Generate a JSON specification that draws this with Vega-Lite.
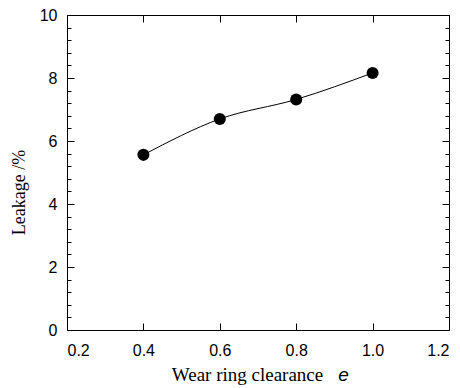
{
  "$schema": "https://vega.github.io/schema/vega-lite/v6.json",
  "width": 382,
  "height": 315,
  "autosize": "none",
  "padding": {"left": 67, "top": 15, "right": 11, "bottom": 58},
  "background": "white",
  "config": {
    "view": {"stroke": "black", "strokeWidth": 1},
    "axis": {
      "domain": false,
      "tickColor": "black",
      "tickWidth": 1,
      "labelColor": "black",
      "titleColor": "black",
      "labelFont": "Liberation Sans",
      "labelFontSize": 16,
      "titleFont": "Liberation Serif",
      "titleFontSize": 18,
      "titleFontWeight": "normal",
      "grid": false
    }
  },
  "data": {
    "values": [
      {"e": 0.4, "leakage": 5.56},
      {"e": 0.6, "leakage": 6.70},
      {"e": 0.8, "leakage": 7.32},
      {"e": 1.0, "leakage": 8.16}
    ]
  },
  "layer": [
    {
      "encoding": {
        "x": {
          "field": "e",
          "type": "quantitative",
          "scale": {"domain": [0.2, 1.2], "nice": false, "zero": false},
          "axis": {
            "orient": "bottom",
            "title": "Wear ring clearance",
            "titleFontSize": 19,
            "titleX": 180,
            "titleY": 57,
            "titleBaseline": "alphabetic",
            "titleAlign": "center",
            "values": [0.2, 0.4, 0.6, 0.8, 1.0, 1.2],
            "format": ".1f",
            "offset": -7,
            "tickSize": 7,
            "labelPadding": 12
          }
        },
        "y": {
          "field": "leakage",
          "type": "quantitative",
          "scale": {"domain": [0, 10], "nice": false},
          "axis": {
            "orient": "left",
            "title": "Leakage /%",
            "values": [0, 2, 4, 6, 8, 10],
            "offset": -7,
            "tickSize": 7,
            "labelPadding": 10,
            "titlePadding": 11,
            "titleY": 177
          }
        }
      },
      "layer": [
        {
          "mark": {"type": "line", "color": "black", "strokeWidth": 1, "interpolate": "monotone"}
        },
        {
          "mark": {"type": "point", "filled": true, "color": "black", "opacity": 1, "size": 145}
        }
      ]
    },
    {
      "mark": {"type": "point", "opacity": 0},
      "encoding": {
        "x": {
          "field": "e",
          "type": "quantitative",
          "scale": {"domain": [0.2, 1.2], "nice": false, "zero": false},
          "axis": {
            "orient": "top",
            "title": null,
            "labels": false,
            "values": [0.2, 0.4, 0.6, 0.8, 1.0, 1.2],
            "offset": -7,
            "tickSize": 7
          }
        },
        "y": {
          "field": "leakage",
          "type": "quantitative",
          "scale": {"domain": [0, 10], "nice": false},
          "axis": {
            "orient": "right",
            "title": null,
            "labels": false,
            "values": [0, 2, 4, 6, 8, 10],
            "offset": -7,
            "tickSize": 7
          }
        }
      }
    },
    {
      "mark": {"type": "point", "opacity": 0},
      "encoding": {
        "x": {
          "field": "e",
          "type": "quantitative",
          "scale": {"domain": [0.2, 1.2], "nice": false, "zero": false},
          "axis": {
            "orient": "bottom",
            "title": "e",
            "titleFont": "Liberation Sans",
            "titleFontStyle": "italic",
            "titleFontSize": 19,
            "titleX": 276,
            "titleY": 50,
            "titleBaseline": "alphabetic",
            "titleAlign": "center",
            "ticks": false,
            "labels": false
          }
        },
        "y": {
          "field": "leakage",
          "type": "quantitative",
          "scale": {"domain": [0, 10], "nice": false},
          "axis": {
            "orient": "left",
            "title": null,
            "labels": false,
            "values": [0.4,0.8,1.2,1.6,2.4,2.8,3.2,3.6,4.4,4.8,5.2,5.6,6.4,6.8,7.2,7.6,8.4,8.8,9.2,9.6],
            "offset": -4,
            "tickSize": 4
          }
        }
      }
    },
    {
      "mark": {"type": "point", "opacity": 0},
      "encoding": {
        "x": {
          "field": "e",
          "type": "quantitative",
          "scale": {"domain": [0.2, 1.2], "nice": false, "zero": false},
          "axis": null
        },
        "y": {
          "field": "leakage",
          "type": "quantitative",
          "scale": {"domain": [0, 10], "nice": false},
          "axis": {
            "orient": "right",
            "title": null,
            "labels": false,
            "values": [0.4,0.8,1.2,1.6,2.4,2.8,3.2,3.6,4.4,4.8,5.2,5.6,6.4,6.8,7.2,7.6,8.4,8.8,9.2,9.6],
            "offset": -4,
            "tickSize": 4
          }
        }
      }
    }
  ],
  "resolve": {"axis": {"x": "independent", "y": "independent"}}
}
